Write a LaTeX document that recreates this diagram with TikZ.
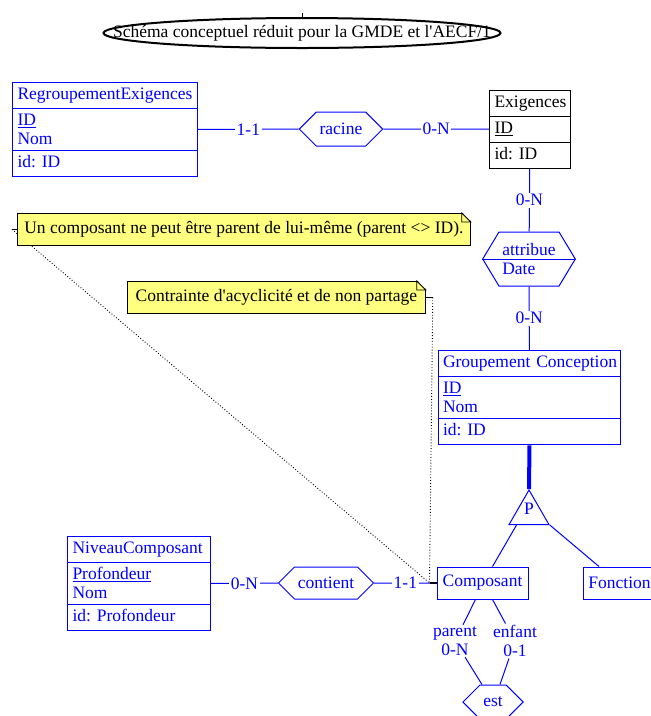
\documentclass[tikz,border=0pt]{standalone}
\usepackage{fontspec}
\setmainfont{Liberation Serif}
\usetikzlibrary{positioning, shapes.geometric, shapes.symbols, shapes.multipart, calc, backgrounds}
\definecolor{erblue}{RGB}{0,0,255}
\definecolor{noteyellow}{RGB}{255,255,128}
\newcommand{\erfont}{\fontsize{17.5}{19}\selectfont\frenchspacing}
\newcommand{\lowstrut}{\rule[-3pt]{0pt}{3pt}}
\newcommand{\dogear}[1]{%
    \fill [white] ($(#1.north east)+(-9,-1)$) -- ($(#1.north east)+(1,-1)$) -- ($(#1.north east)+(1,9)$) -- cycle;
    \draw [line width=0.8pt] ($(#1.north east)+(-9,0)$) -- ++(9,9) -- ++(-9,0) -- cycle;
}
\tikzset{
    base/.style={font=\erfont},
    entity/.style={base, rectangle split, rectangle split parts=3, draw=erblue, text=erblue, fill=white, line width=1pt, align=left, inner xsep=5pt, inner ysep=3pt, anchor=north west},
    blackentity/.style={entity, draw=black, text=black},
    simplebox/.style={base, rectangle, draw=erblue, text=erblue, fill=white, line width=1pt, minimum height=32, inner xsep=4pt},
    rel/.style={base, signal, signal to=east and west, draw=erblue, text=erblue, fill=white, line width=1pt, minimum height=34},
    card/.style={base, text=erblue, fill=white, inner sep=1.5pt},
    link/.style={draw=erblue, line width=1pt},
    isa/.style={draw=erblue, line width=4pt},
    note/.style={base, draw=black, fill=noteyellow, line width=0.8pt, inner xsep=4pt, minimum height=32, anchor=north west},
    tick/.style={draw=black, line width=0.8pt},
    noteline/.style={draw=black, line width=0.9pt, dash pattern=on 0.9pt off 2pt},
    titre/.style={base, ellipse, draw=black, line width=2pt, minimum width=397, minimum height=30, inner sep=0pt}
}
\begin{document}
\begin{tikzpicture}[x=1pt, y=-1pt]
    \useasboundingbox (0,0) rectangle (651,716);

    % Titre
    \node [titre] (title) at (302,33) {\makebox[0pt]{Schéma conceptuel réduit pour la GMDE et l\textquotesingle AECF/1}};
    \draw [tick] (title.north) -- ++(0,-4);

    % Entites
    \node [entity, text width=175pt] (regroup) at (12,82) {\strut RegroupementExigences \nodepart{two} \strut\underline{ID}\\Nom\lowstrut \nodepart{three} \strut id: ID};
    \node [blackentity, text width=71pt] (exig) at (489,90) {\strut Exigences \nodepart{two} \strut\underline{ID} \nodepart{three} \strut id: ID};
    \node [entity, text width=173pt, inner xsep=4.5pt] (grp) at (438,350) {\strut\mbox{Groupement Conception} \nodepart{two} \strut\underline{ID}\\Nom\lowstrut \nodepart{three} \strut id: ID};
    \node [entity, text width=133pt] (niveau) at (67,536) {\strut NiveauComposant \nodepart{two} \strut\underline{Profondeur}\\Nom\lowstrut \nodepart{three} \strut id: Profondeur};
    \node [simplebox, minimum width=91] (comp) at (482.5,583) {Composant};
    \node [simplebox, minimum width=72, anchor=west] (fonct) at (583,583) {Fonction};

    % Associations
    \node [rel, minimum width=78] (racine) at (341,129) {racine};
    \node [rel, minimum width=88, minimum height=54, signal pointer angle=118, align=left] (attr) at (529,259) {attribue\\Date};
    \draw [link] (attr.west) -- (attr.east);
    \node [rel, minimum width=92, minimum height=32] (contient) at (326,583) {contient};
    \node [rel, minimum width=60] (est) at (493,702) {est};

    % Specialisation
    \node [regular polygon, regular polygon sides=3, draw=erblue, line width=1pt, fill=white, minimum size=46, inner sep=0pt,
        label={[base, text=erblue, yshift=4pt]center:P}] (spec) at (529,513) {};

    % Liens
    \draw [link] (regroup) -- node [card] {1-1} (racine);
    \draw [link] (racine) -- node [card] {0-N} (racine -| exig.west);
    \draw [link] (exig) -- node [card] {0-N} (attr);
    \draw [link] (attr) -- node [card] {0-N} (grp);
    \draw [link] (niveau) -- node [card] {0-N} (contient);
    \draw [link] (contient) -- node [card] {1-1} (comp);
    \draw [isa] (grp.south) -- (spec.corner 1);
    \draw [link] ($(spec.corner 2)!0.2!(spec.corner 3)$) -- ($(comp.north)+(10,0)$);
    \draw [link] (spec.corner 3) -- ($(fonct.north west)+(16,0)$);

    \node [card, fill=none, align=center] (lpar) at (455,641) {parent\\0-N};
    \node [card, fill=none, align=center] (lenf) at (515,641) {enfant\\0-1};
    \draw [link] ($(comp.south)+(-7,0)$) -- (lpar) -- ($(est.north)+(-11,0)$);
    \draw [link] ($(comp.south)+(10,0)$) -- (lenf) -- ($(est.north)+(7,0)$);

    % Notes
    \node [note, minimum width=453] (note1) at (17,213) {Un composant ne peut être parent de lui-même (parent <> ID).};
    \dogear{note1}
    \node [note, minimum width=298] (note2) at (127,281) {Contrainte d\textquotesingle acyclicité et de non partage};
    \dogear{note2}
    \coordinate (anc) at ($(comp.west)+(-7,0)$);
    \coordinate (t1) at ($(note1.west)+(-5,0)$);
    \coordinate (t2) at ($(note2.east)+(7,0)$);
    \draw [tick] (t1) -- (note1.west);
    \draw [tick] (note2.east) -- (t2);
    \begin{scope}[on background layer]
        \draw [noteline] (t1) -- (anc);
        \draw [noteline] (t2) -- (anc);
    \end{scope}
    \draw [tick, line width=1.6pt] (anc) -- (comp.west);
\end{tikzpicture}
\end{document}
